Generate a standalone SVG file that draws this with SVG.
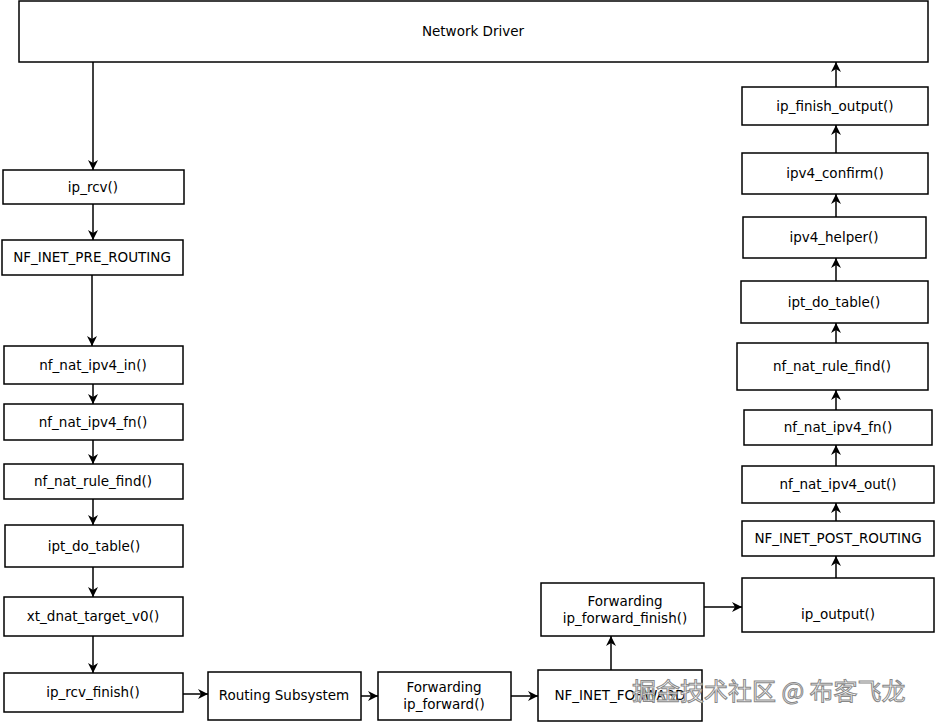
<svg xmlns="http://www.w3.org/2000/svg" width="938" height="725" viewBox="0 0 938 725">
<defs><marker id="a" viewBox="0 0 10 10" refX="10" refY="5" markerWidth="10" markerHeight="10" markerUnits="userSpaceOnUse" orient="auto"><path d="M0,0 L10,5 L0,10 L3,5 Z" fill="#000"/></marker></defs>
<style>
rect{fill:#fff;stroke:#000;stroke-width:1.5}
text{font-family:"DejaVu Sans",sans-serif;font-size:13.5px;text-anchor:middle;fill:#000}
.c line{stroke:#000;stroke-width:1.5;marker-end:url(#a)}
.w{font-family:"Noto Sans CJK SC",sans-serif;font-size:24px;fill:#fff;stroke:#888;stroke-width:1;text-anchor:start}
</style>
<rect x="0" y="0" width="938" height="725" style="stroke:none"/>
<g id="n0"><rect x="19" y="1" width="909" height="61"/><text x="473" y="36">Network Driver</text></g>
<g id="n1"><rect x="3" y="170" width="181" height="34"/><text x="93" y="192">ip_rcv()</text></g>
<g id="n2"><rect x="2" y="240" width="181" height="35"/><text x="92" y="262">NF_INET_PRE_ROUTING</text></g>
<g id="n3"><rect x="4" y="346" width="179" height="38"/><text x="93" y="370">nf_nat_ipv4_in()</text></g>
<g id="n4"><rect x="4" y="404" width="179" height="36"/><text x="93" y="427">nf_nat_ipv4_fn()</text></g>
<g id="n5"><rect x="4" y="464" width="179" height="35"/><text x="93" y="486">nf_nat_rule_find()</text></g>
<g id="n6"><rect x="5" y="525" width="178" height="42"/><text x="94" y="551">ipt_do_table()</text></g>
<g id="n7"><rect x="4" y="597" width="179" height="39"/><text x="93" y="621">xt_dnat_target_v0()</text></g>
<g id="n8"><rect x="4" y="673" width="179" height="39"/><text x="93" y="697">ip_rcv_finish()</text></g>
<g id="n9"><rect x="208" y="672" width="153" height="48"/><text x="284" y="700">Routing Subsystem</text></g>
<g id="n10"><rect x="378" y="672" width="133" height="48"/><text x="444" y="692">Forwarding</text><text x="444" y="709">ip_forward()</text></g>
<g id="n11"><rect x="538" y="670" width="164" height="51"/><text x="620" y="700">NF_INET_FORWARD</text></g>
<g id="n12"><rect x="541" y="583" width="163" height="53"/><text x="625" y="606">Forwarding</text><text x="625" y="623">ip_forward_finish()</text></g>
<g id="n13"><rect x="742" y="578" width="192" height="54"/><text x="838" y="619">ip_output()</text></g>
<g id="n14"><rect x="742" y="521" width="192" height="35"/><text x="838" y="543">NF_INET_POST_ROUTING</text></g>
<g id="n15"><rect x="742" y="466" width="192" height="37"/><text x="838" y="489">nf_nat_ipv4_out()</text></g>
<g id="n16"><rect x="744" y="410" width="188" height="35"/><text x="838" y="432">nf_nat_ipv4_fn()</text></g>
<g id="n17"><rect x="737" y="343" width="191" height="47"/><text x="832" y="371">nf_nat_rule_find()</text></g>
<g id="n18"><rect x="741" y="281" width="187" height="42"/><text x="834" y="307">ipt_do_table()</text></g>
<g id="n19"><rect x="743" y="217" width="183" height="41"/><text x="834" y="242">ipv4_helper()</text></g>
<g id="n20"><rect x="742" y="153" width="186" height="41"/><text x="835" y="178">ipv4_confirm()</text></g>
<g id="n21"><rect x="742" y="87" width="186" height="38"/><text x="835" y="111">ip_finish_output()</text></g>
<g class="c">
<line x1="93" y1="62" x2="93" y2="170"/>
<line x1="93" y1="204" x2="93" y2="240"/>
<line x1="92" y1="275" x2="92" y2="346"/>
<line x1="93" y1="384" x2="93" y2="404"/>
<line x1="93" y1="440" x2="93" y2="464"/>
<line x1="93" y1="499" x2="93" y2="525"/>
<line x1="93" y1="567" x2="93" y2="597"/>
<line x1="93" y1="636" x2="93" y2="673"/>
<line x1="183" y1="694" x2="208" y2="694"/>
<line x1="361" y1="696" x2="378" y2="696"/>
<line x1="511" y1="696" x2="538" y2="696"/>
<line x1="611" y1="670" x2="611" y2="636"/>
<line x1="704" y1="607" x2="742" y2="607"/>
<line x1="836" y1="578" x2="836" y2="556"/>
<line x1="836" y1="521" x2="836" y2="503"/>
<line x1="836" y1="466" x2="836" y2="445"/>
<line x1="836" y1="410" x2="836" y2="390"/>
<line x1="836" y1="343" x2="836" y2="323"/>
<line x1="836" y1="281" x2="836" y2="258"/>
<line x1="836" y1="217" x2="836" y2="194"/>
<line x1="836" y1="153" x2="836" y2="125"/>
<line x1="836" y1="87" x2="836" y2="62"/>
</g>
<text class="w" x="632" y="700">掘金技术社区 @ 布客飞龙</text>
</svg>
